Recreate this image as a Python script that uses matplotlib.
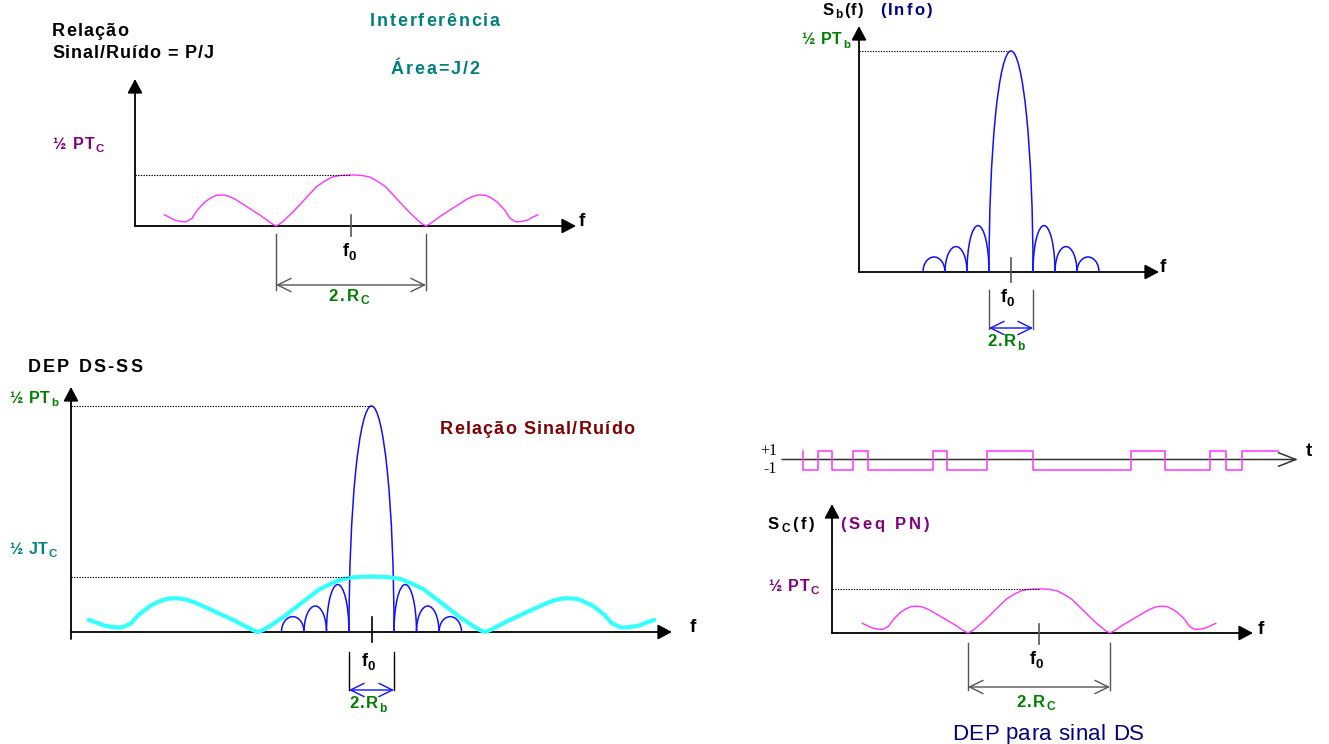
import numpy as np
import matplotlib
matplotlib.use("Agg")
import matplotlib.pyplot as plt
from matplotlib.patches import Arc
from matplotlib.font_manager import FontProperties, findfont, get_font

plt.rcParams['font.family'] = ['Liberation Sans', 'DejaVu Sans']

# ---------------- data ----------------
# PN-chip spectrum (left half), offset from f0 in units of Rc, level relative to 1/2 P Tc
PN_F_LEFT = [-2.49, -2.42, -2.36, -2.28, -2.20, -2.12, -2.05, -1.95, -1.87, -1.80,
             -1.72, -1.64, -1.55, -1.39, -1.20, -1.05, -1.00, -0.95, -0.90, -0.77,
             -0.60, -0.46, -0.35, -0.25, -0.15, -0.05, 0.0]
PN_LEVEL_LEFT = [0.22, 0.17, 0.12, 0.09, 0.08, 0.15, 0.31, 0.47, 0.55, 0.60,
                 0.61, 0.59, 0.53, 0.38, 0.20, 0.04, 0.00, 0.04, 0.10, 0.28,
                 0.55, 0.77, 0.88, 0.96, 0.99, 1.00, 1.00]
# Data (bit) spectrum lobes, units of Rb, level relative to 1/2 P Tb
MAIN_LOBE_HALF_WIDTH = 1.0
SIDELOBE_LEVELS = [0.21, 0.115, 0.068]
JAM_LEVEL = 0.245      # 1/2 J Tc relative to 1/2 P Tb
SPREAD_FACTOR = 5.05   # Rc / Rb as drawn
# PN sequence: chip transition instants (chip units) and levels
PN_EDGES = [0, 0.99, 2.0, 3.45, 4.47, 8.95, 9.94, 12.68, 15.86, 22.61, 24.94,
            28.08, 29.12, 30.27, 32.77]
PN_LEVELS = [-1, 1, -1, 1, -1, 1, -1, 1, -1, 1, -1, 1, -1, 1]

pn_f = np.concatenate([PN_F_LEFT, -np.array(PN_F_LEFT[::-1][1:])])
pn_level = np.concatenate([PN_LEVEL_LEFT, PN_LEVEL_LEFT[::-1][1:]])

# ---------------- colours ----------------
PINK = '#ff33ff'
CYAN = '#33ffff'
BLUE = '#1010ff'
TEAL = '#008080'
GREEN = '#008000'
PURPLE = '#800080'
DARKRED = '#800000'
NAVY = '#000080'
GREY = '#555555'

W, H = 1329, 744
DPI = 100
fig = plt.figure(figsize=(W / DPI, H / DPI), dpi=DPI)
over = fig.add_axes([0, 0, 1, 1])
over.set_xlim(0, W)
over.set_ylim(H, 0)
over.axis('off')


class Panel:
    def __init__(self, cx, cy, sx, sy):
        self.cx, self.cy, self.sx, self.sy = cx, cy, sx, sy
        ax = fig.add_axes([0, 0, 1, 1])
        ax.set_xlim(-cx / sx, (W - cx) / sx)
        ax.set_ylim((cy - H) / sy, cy / sy)
        ax.axis('off')
        ax.patch.set_alpha(0)
        self.ax = ax

    def u(self, px):
        return (px - self.cx) / self.sx

    def v(self, py):
        return (self.cy - py) / self.sy


def axis_arrow(x0, y0, x1, y1, color='black', lw=1.3):
    over.annotate('', xy=(x1, y1), xytext=(x0, y0),
                  arrowprops=dict(arrowstyle='-|>,head_length=0.85,head_width=0.45',
                                  color=color, lw=lw, shrinkA=0, shrinkB=0,
                                  mutation_scale=10))


def span_arrow(P, y, color):
    P.ax.annotate('', xy=(MAIN_LOBE_HALF_WIDTH, P.v(y)), xytext=(-MAIN_LOBE_HALF_WIDTH, P.v(y)),
                  arrowprops=dict(arrowstyle='<->,head_length=0.65,head_width=0.32',
                                  color=color, lw=1.0, shrinkA=0, shrinkB=0,
                                  mutation_scale=15))


def bracket(P, y0, y1, color):
    for s in (-1, 1):
        P.ax.plot([s * MAIN_LOBE_HALF_WIDTH] * 2, [P.v(y0), P.v(y1)], color=color, lw=1.0)


def f0_tick(P, y0, y1, color='black'):
    P.ax.plot([0, 0], [P.v(y0), P.v(y1)], color=color, lw=1.2)


def level_line(P, x_axis_px, level, u_end):
    P.ax.plot([P.u(x_axis_px), u_end], [level, level], color='black', lw=0.8,
              linestyle=(0, (1.2, 1.2)))


def data_lobes(P):
    ax = P.ax
    ax.add_patch(Arc((0, 0), 2 * MAIN_LOBE_HALF_WIDTH, 2.0, theta1=0, theta2=180,
                     color=BLUE, lw=1.1))
    for k, lvl in enumerate(SIDELOBE_LEVELS):
        c = MAIN_LOBE_HALF_WIDTH + 0.5 + k
        for s in (-1, 1):
            ax.add_patch(Arc((s * c, 0), 1.0, 2 * lvl, theta1=0, theta2=180,
                             color=BLUE, lw=1.1))


def spaced(x, y, segs, color='black', width=None, ha='left', weight='bold',
           family='Liberation Sans'):
    """Letter-spaced text. segs: list of (string, size_pt, dy_px). y = centre of capitals."""
    items = []
    for s, size, dy in segs:
        prop = FontProperties(family=family, weight=weight, size=size)
        font = get_font(findfont(prop))
        font.set_size(size, DPI)
        for c in s:
            adv = font.load_char(ord(c)).linearHoriAdvance / 65536
            items.append((c, prop, dy, adv))
    natural = sum(it[3] for it in items)
    n = len(items)
    if width is None or n < 2:
        extra = 0.0
        total = natural
    else:
        extra = (width - natural) / (n - 1)
        total = width
    x0 = x if ha == 'left' else x - total / 2
    baseline = y + 0.36 * segs[0][1] * DPI / 72
    cx = x0
    for c, prop, dy, adv in items:
        if c != ' ':
            over.text(cx, baseline + dy, c, fontproperties=prop, color=color,
                      ha='left', va='baseline')
        cx += adv + extra


def sub(main, s, size, subsize=None, dy=3.5):
    subsize = subsize or size * 0.72
    return [(main, size, 0), (s, subsize, dy)]


def axis_name(x, y, s):
    over.text(x, y, s, fontsize=13.5, fontweight='bold', ha='left', va='center')


def f0_label(x, y):
    spaced(x, y, [('f', 13, 0), ('0', 9.5, 3.5)], ha='center')


# ================= Panel A: interference =================
A = Panel(351, 226, 75, 51)
axis_arrow(135, 226, 135, 79)
axis_arrow(135, 226, 576, 226)
A.ax.plot(pn_f, pn_level, color=PINK, lw=1.0)
level_line(A, 135, 1.0, 0)
f0_tick(A, 215, 236, GREY)
bracket(A, 234, 290, GREY)
span_arrow(A, 285, GREY)
spaced(52, 29, [('Relação', 13, 0)], width=76)
spaced(52, 52, [('Sinal/Ruído = P/J', 13, 0)], width=162)
spaced(435, 19, [('Interferência', 13, 0)], TEAL, width=130, ha='center')
spaced(435, 67, [('Área=J/2', 13, 0)], TEAL, width=89, ha='center')
spaced(52, 143, sub('½ PT', 'C', 11.5), PURPLE, width=52)
axis_name(579, 221, 'f')
f0_label(349, 250)
spaced(349, 295, sub('2.R', 'C', 12), GREEN, width=41, ha='center')

# ================= Panel B: info spectrum =================
B = Panel(1011, 272, 22, 221)
axis_arrow(859, 272, 859, 26)
axis_arrow(859, 272, 1159, 272)
data_lobes(B)
level_line(B, 859, 1.0, 0)
f0_tick(B, 258, 282, GREY)
bracket(B, 290, 329, GREY)
span_arrow(B, 328, BLUE)
spaced(823, 9, [('S', 12, 0), ('b', 8.5, 3), ('(f)', 12, 0)], width=40)
spaced(880, 9, [('(Info)', 12, 0)], NAVY, width=52)
spaced(801, 38.5, sub('½ PT', 'b', 11.5), GREEN, width=49)
axis_name(1160, 268, 'f')
f0_label(1007, 296)
spaced(1006, 340, sub('2.R', 'b', 12), GREEN, width=37, ha='center')

# ================= Panel C: DS-SS PSD with jamming =================
C = Panel(371.5, 632, 22.5, 226)
axis_arrow(71, 639, 71, 387)
axis_arrow(71, 632, 672, 632)
C.ax.plot(pn_f * SPREAD_FACTOR, pn_level * JAM_LEVEL, color=CYAN, lw=3.0,
          solid_capstyle='round')
data_lobes(C)
level_line(C, 71, 1.0, 0)
level_line(C, 71, JAM_LEVEL, -MAIN_LOBE_HALF_WIDTH)
f0_tick(C, 617, 642)
bracket(C, 652, 690, 'black')
span_arrow(C, 690, BLUE)
spaced(28, 366, [('DEP DS-SS', 13, 0)], width=114)
spaced(9, 397, sub('½ PT', 'b', 11.5), GREEN, width=49)
spaced(9, 548, sub('½ JT', 'C', 11.5), TEAL, width=48)
spaced(440, 427, [('Relação Sinal/Ruído', 13, 0)], DARKRED, width=194)
axis_name(690, 627, 'f')
f0_label(368, 660)
spaced(368, 702, sub('2.R', 'b', 12), GREEN, width=38, ha='center')

# ================= Panel D: PN sequence and its PSD =================
T = Panel(803.3, 460.5, 14.5, 9.5)
over.annotate('', xy=(1298, 459.5), xytext=(782, 459.5),
              arrowprops=dict(arrowstyle='->,head_length=0.9,head_width=0.35',
                              color='#333333', lw=1.1, shrinkA=0, shrinkB=0,
                              mutation_scale=14))
xs = [PN_EDGES[0]]
ys = [-PN_LEVELS[0]]
for i, lv in enumerate(PN_LEVELS):
    xs += [PN_EDGES[i], PN_EDGES[i + 1]]
    ys += [lv, lv]
T.ax.plot(xs, ys, color=PINK, lw=1.1)
over.text(777, 451, '+1', fontsize=11.5, ha='right', va='center', family='Liberation Serif')
over.text(777, 469, '-1', fontsize=11.5, ha='right', va='center', family='Liberation Serif')
axis_name(1306, 451, 't')

D = Panel(1039, 633, 71, 44)
axis_arrow(832, 633, 832, 504)
axis_arrow(832, 633, 1253, 633)
D.ax.plot(pn_f, pn_level, color=PINK, lw=1.0)
level_line(D, 832, 1.0, 0)
f0_tick(D, 624, 644, GREY)
bracket(D, 643, 690, GREY)
span_arrow(D, 687, GREY)
spaced(768, 523, [('S', 12, 0), ('C', 8.5, 3), ('(f)', 12, 0)], width=46)
spaced(840, 523, [('(Seq PN)', 12, 0)], PURPLE, width=89)
spaced(768, 585, sub('½ PT', 'C', 11.5), PURPLE, width=51)
axis_name(1258, 629, 'f')
f0_label(1036, 658)
spaced(1036, 701, sub('2.R', 'C', 12), GREEN, width=39, ha='center')
spaced(1048, 731.5, [('DEP para sinal DS', 16, 0)], NAVY, width=192, ha='center',
       weight='normal')

fig.savefig('out.png', dpi=DPI)
